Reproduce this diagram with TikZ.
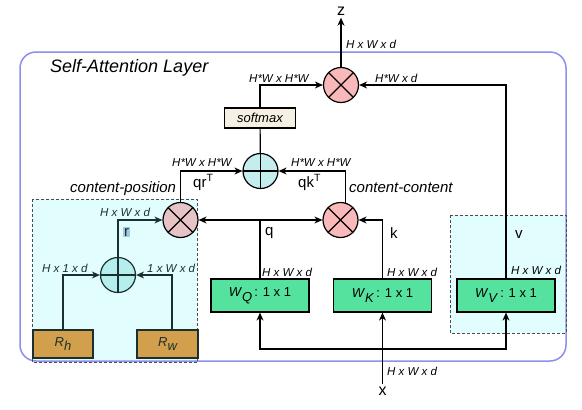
\documentclass[tikz,border=0pt]{standalone}
\usepackage{fontspec}
\setmainfont{Liberation Sans}
\usepackage{tikz}
\usetikzlibrary{calc, positioning, arrows.meta}

\definecolor{layerblue}{HTML}{8C8FEE}
\definecolor{mulpink}{HTML}{F9B9BB}
\definecolor{mulgrey}{HTML}{E6C3C4}
\definecolor{addcyan}{HTML}{C4EEEE}
\definecolor{addteal}{HTML}{B4EFED}
\definecolor{wgreen}{HTML}{55E29F}
\definecolor{rgold}{HTML}{D2A04C}
\definecolor{softbeige}{HTML}{F6F0E4}
\definecolor{rmark}{HTML}{A3CCE2}
\definecolor{tint}{HTML}{E2FDFD}
\definecolor{ink}{HTML}{1C2F2F}

\begin{document}
\begin{tikzpicture}[x=1pt, y=-1pt,
  mul/.style={circle, draw, line width=1.2pt, minimum size=35pt, inner sep=0pt, fill=mulpink,
    path picture={\draw[line width=1.1pt] (path picture bounding box.north west) -- (path picture bounding box.south east)
      (path picture bounding box.north east) -- (path picture bounding box.south west);}},
  add/.style={circle, draw, line width=1.2pt, minimum size=35pt, inner sep=0pt, fill=addcyan,
    path picture={\draw[line width=1.1pt] (path picture bounding box.north) -- (path picture bounding box.south)
      (path picture bounding box.west) -- (path picture bounding box.east);}},
  wbox/.style={draw, line width=1.2pt, fill=wgreen, minimum width=98pt, minimum height=33pt, font=\fontsize{13}{14}\selectfont},
  rbox/.style={draw=ink, line width=1.2pt, fill=rgold, text=ink, minimum width=60pt, minimum height=28pt, font=\fontsize{13}{14}\selectfont\itshape},
  softbox/.style={draw, line width=1.2pt, fill=softbeige, minimum width=71pt, minimum height=20pt, inner sep=0pt, font=\fontsize{13}{14}\selectfont\itshape},
  group/.style={draw=black!70, dash pattern=on 3pt off 2pt, line width=0.8pt},
  dim/.style={anchor=base west, inner sep=0pt, font=\fontsize{11.5}{12}\selectfont\itshape},
  kind/.style={anchor=base west, inner sep=0pt, font=\fontsize{15}{16}\selectfont\itshape},
  var/.style={anchor=base west, inner sep=0pt, font=\fontsize{15}{16}\selectfont},
  io/.style={anchor=base, inner sep=2.5pt, font=\fontsize{16}{17}\selectfont},
  arr/.style={-{Stealth[length=8pt, width=7pt, inset=2.5pt]}, line width=1.2pt}
]
\useasboundingbox (0,0) rectangle (582,410);
\fill[tint] (32,199) rectangle (197.5,362) (450,215) rectangle (566,333);
\draw[layerblue, line width=1.5pt, rounded corners=16pt] (20,52) rectangle (566,361);
\draw[group] (32,199) rectangle (197.5,362);
\draw[group] (450,215) rectangle (566,333);
\node (ttl) [anchor=base west, inner sep=0pt, font=\fontsize{18}{20}\selectfont\itshape] at (50,72) {Self-Attention Layer};

\node (mz) [mul] at (341,85) {};
\node (soft) [softbox] at (260,118) {softmax};
\node (sum) [add] at (260.5,171) {};
\node (cp) [mul, fill=mulgrey] at (180.5,220) {};
\node (cc) [mul] at (340.5,220) {};
\node (pos) [add, fill=addteal, draw=ink] at (118,275) {};
\node (rh) [rbox] at (63,344) {R\raisebox{-.38em}{h}};
\node (rw) [rbox, minimum width=61pt] at (167.5,344) {R\raisebox{-.38em}{w}};
\node (wq) [wbox] at (260,295.5) {\textit{W}\raisebox{-.38em}{\textit{Q}}\,: 1 x 1};
\node (wk) [wbox] at (382.5,295.5) {\textit{W}\raisebox{-.38em}{\textit{K}}\,: 1 x 1};
\node (wv) [wbox] at (506,295.5) {\textit{W}\raisebox{-.38em}{\textit{V}}\,: 1 x 1};
\node (z) [io] at (341,15) {z};
\node (x) [io] at (382.5,395) {x};
\coordinate (qfork) at (wq.north |- cp.east);
\coordinate (fork) at (382.5,349);

\draw[arr] (mz) -- (z);
\draw[arr] (soft) |- (mz);
\draw[arr] (wv) |- (mz);
\draw[line width=1.2pt] (sum) -- (soft);
\draw[arr] (cp) |- (sum);
\draw[arr] (cc.75) |- (sum);
\draw[line width=1.2pt] (wq) -- (qfork);
\draw[arr] (qfork) -- (cp);
\draw[arr] (qfork) -- (cc);
\draw[arr] (wk) |- (cc);
\draw[arr, ink] (pos) |- (cp);
\draw[arr, ink] (rh) |- (pos);
\draw[arr, ink] ([xshift=4.5pt]rw.north) |- (pos);
\draw[arr] (x) -- (wk);
\draw[arr] (fork) -| (wq.south);
\draw[arr] (fork) -| (wv.south);

\node (dz) [dim] at (346,48) {H x W x d};
\node (dsoft) [dim] at (249,82) {H*W x H*W};
\node (dv) [dim] at (375,82) {H*W x d};
\node (dqr) [dim] at (172,166) {H*W x H*W};
\node (dqk) [dim] at (291,166) {H*W x H*W};
\node (lqr) [var] at (193,187) {qr\textsuperscript{T}};
\node (lqk) [var] at (298,187) {qk\textsuperscript{T}};
\node (lcp) [kind] at (70,192) {content-position};
\node (lcc) [kind] at (349,192) {content-content};
\node (dr) [dim, text=ink] at (100,216) {H x W x d};
\node (lr) [var, fill=rmark, inner sep=0.8pt, text=ink] at (123,236) {r};
\node (lq) [var] at (265,235) {q};
\node (lk) [var] at (390,238) {k};
\node (lv) [var] at (515,238) {v};
\node (dh) [dim, text=ink] at (42,272) {H x 1 x d};
\node (dw) [dim, text=ink] at (147,272) {1 x W x d};
\node (dq) [dim] at (262,276) {H x W x d};
\node (dk) [dim] at (387,276) {H x W x d};
\node (dvv) [dim] at (511,274) {H x W x d};
\node (dx) [dim] at (387,375) {H x W x d};
\end{tikzpicture}
\end{document}
